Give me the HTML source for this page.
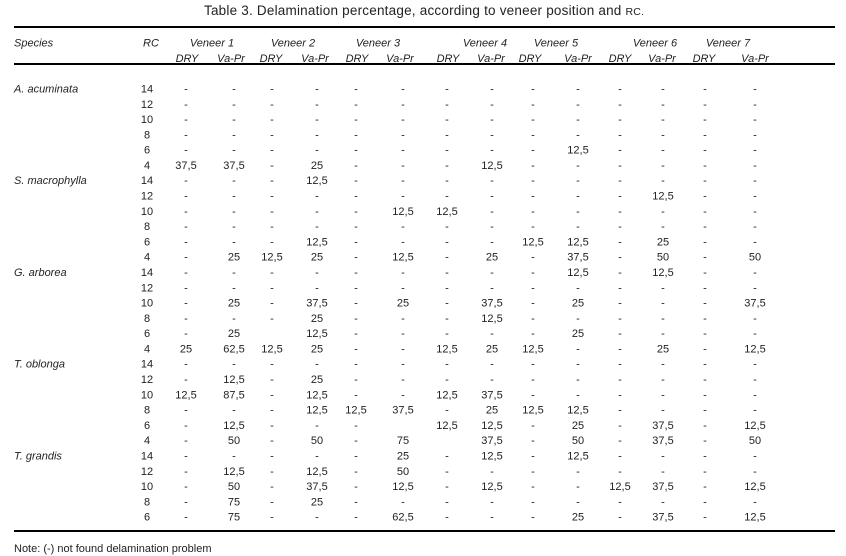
<!DOCTYPE html>
<html>
<head>
<meta charset="utf-8">
<style>
  html, body { margin: 0; padding: 0; background: #fff; }
  svg { display: block; }
  text { font-family: "Liberation Sans", Arial, sans-serif; fill: #222; }
  .h { font-style: italic; font-size: 11px; }
  .d { font-size: 11px; text-anchor: middle; }
  .s { font-style: italic; font-size: 11px; }
</style>
</head>
<body>
<svg width="846" height="556" viewBox="0 0 846 556" xmlns="http://www.w3.org/2000/svg">
<rect x="0" y="0" width="846" height="556" fill="#fff"/>

<!-- Title -->
<text x="204" y="15" font-size="13.5" textLength="440" lengthAdjust="spacing">Table 3. Delamination percentage, according to veneer position and <tspan font-size="10.5">RC.</tspan></text>

<!-- Rules -->
<rect x="14" y="26" width="821" height="2" fill="#000"/>
<rect x="14" y="63" width="821" height="2" fill="#000"/>
<rect x="14" y="530" width="821" height="2" fill="#000"/>

<!-- Header row 1 -->
<text class="h" x="14" y="46.5">Species</text>
<text class="h" x="151" y="46.5" text-anchor="middle">RC</text>
<text class="h" x="212" y="46.5" text-anchor="middle">Veneer 1</text>
<text class="h" x="293" y="46.5" text-anchor="middle">Veneer 2</text>
<text class="h" x="378" y="46.5" text-anchor="middle">Veneer 3</text>
<text class="h" x="485" y="46.5" text-anchor="middle">Veneer 4</text>
<text class="h" x="556" y="46.5" text-anchor="middle">Veneer 5</text>
<text class="h" x="655" y="46.5" text-anchor="middle">Veneer 6</text>
<text class="h" x="728" y="46.5" text-anchor="middle">Veneer 7</text>

<!-- Header row 2 -->
<text class="h" y="62" text-anchor="middle"><tspan x="187">DRY</tspan><tspan x="231">Va-Pr</tspan><tspan x="271">DRY</tspan><tspan x="315">Va-Pr</tspan><tspan x="357">DRY</tspan><tspan x="400">Va-Pr</tspan><tspan x="448">DRY</tspan><tspan x="491">Va-Pr</tspan><tspan x="530">DRY</tspan><tspan x="578">Va-Pr</tspan><tspan x="620">DRY</tspan><tspan x="662">Va-Pr</tspan><tspan x="704">DRY</tspan><tspan x="755">Va-Pr</tspan></text>

<!-- Species labels -->
<text class="s" x="14" y="92.5">A. acuminata</text>
<text class="s" x="14" y="184.2">S. macrophylla</text>
<text class="s" x="14" y="276.0">G. arborea</text>
<text class="s" x="14" y="367.7">T. oblonga</text>
<text class="s" x="14" y="459.5">T. grandis</text>

<!-- RC column -->
<text class="d" x="147" y="92.5">14</text>
<text class="d" x="147" y="107.8">12</text>
<text class="d" x="147" y="123.1">10</text>
<text class="d" x="147" y="138.4">8</text>
<text class="d" x="147" y="153.7">6</text>
<text class="d" x="147" y="168.9">4</text>
<text class="d" x="147" y="184.2">14</text>
<text class="d" x="147" y="199.5">12</text>
<text class="d" x="147" y="214.8">10</text>
<text class="d" x="147" y="230.1">8</text>
<text class="d" x="147" y="245.4">6</text>
<text class="d" x="147" y="260.7">4</text>
<text class="d" x="147" y="276.0">14</text>
<text class="d" x="147" y="291.3">12</text>
<text class="d" x="147" y="306.6">10</text>
<text class="d" x="147" y="321.9">8</text>
<text class="d" x="147" y="337.1">6</text>
<text class="d" x="147" y="352.4">4</text>
<text class="d" x="147" y="367.7">14</text>
<text class="d" x="147" y="383.0">12</text>
<text class="d" x="147" y="398.3">10</text>
<text class="d" x="147" y="413.6">8</text>
<text class="d" x="147" y="428.9">6</text>
<text class="d" x="147" y="444.2">4</text>
<text class="d" x="147" y="459.5">14</text>
<text class="d" x="147" y="474.8">12</text>
<text class="d" x="147" y="490.0">10</text>
<text class="d" x="147" y="505.3">8</text>
<text class="d" x="147" y="520.6">6</text>

<!-- Data rows -->
<text class="d" y="92.5"><tspan x="186">-</tspan><tspan x="234">-</tspan><tspan x="272">-</tspan><tspan x="317">-</tspan><tspan x="356">-</tspan><tspan x="403">-</tspan><tspan x="447">-</tspan><tspan x="492">-</tspan><tspan x="533">-</tspan><tspan x="578">-</tspan><tspan x="620">-</tspan><tspan x="663">-</tspan><tspan x="705">-</tspan><tspan x="755">-</tspan></text>
<text class="d" y="107.8"><tspan x="186">-</tspan><tspan x="234">-</tspan><tspan x="272">-</tspan><tspan x="317">-</tspan><tspan x="356">-</tspan><tspan x="403">-</tspan><tspan x="447">-</tspan><tspan x="492">-</tspan><tspan x="533">-</tspan><tspan x="578">-</tspan><tspan x="620">-</tspan><tspan x="663">-</tspan><tspan x="705">-</tspan><tspan x="755">-</tspan></text>
<text class="d" y="123.1"><tspan x="186">-</tspan><tspan x="234">-</tspan><tspan x="272">-</tspan><tspan x="317">-</tspan><tspan x="356">-</tspan><tspan x="403">-</tspan><tspan x="447">-</tspan><tspan x="492">-</tspan><tspan x="533">-</tspan><tspan x="578">-</tspan><tspan x="620">-</tspan><tspan x="663">-</tspan><tspan x="705">-</tspan><tspan x="755">-</tspan></text>
<text class="d" y="138.4"><tspan x="186">-</tspan><tspan x="234">-</tspan><tspan x="272">-</tspan><tspan x="317">-</tspan><tspan x="356">-</tspan><tspan x="403">-</tspan><tspan x="447">-</tspan><tspan x="492">-</tspan><tspan x="533">-</tspan><tspan x="578">-</tspan><tspan x="620">-</tspan><tspan x="663">-</tspan><tspan x="705">-</tspan><tspan x="755">-</tspan></text>
<text class="d" y="153.7"><tspan x="186">-</tspan><tspan x="234">-</tspan><tspan x="272">-</tspan><tspan x="317">-</tspan><tspan x="356">-</tspan><tspan x="403">-</tspan><tspan x="447">-</tspan><tspan x="492">-</tspan><tspan x="533">-</tspan><tspan x="578">12,5</tspan><tspan x="620">-</tspan><tspan x="663">-</tspan><tspan x="705">-</tspan><tspan x="755">-</tspan></text>
<text class="d" y="168.9"><tspan x="186">37,5</tspan><tspan x="234">37,5</tspan><tspan x="272">-</tspan><tspan x="317">25</tspan><tspan x="356">-</tspan><tspan x="403">-</tspan><tspan x="447">-</tspan><tspan x="492">12,5</tspan><tspan x="533">-</tspan><tspan x="578">-</tspan><tspan x="620">-</tspan><tspan x="663">-</tspan><tspan x="705">-</tspan><tspan x="755">-</tspan></text>

<text class="d" y="184.2"><tspan x="186">-</tspan><tspan x="234">-</tspan><tspan x="272">-</tspan><tspan x="317">12,5</tspan><tspan x="356">-</tspan><tspan x="403">-</tspan><tspan x="447">-</tspan><tspan x="492">-</tspan><tspan x="533">-</tspan><tspan x="578">-</tspan><tspan x="620">-</tspan><tspan x="663">-</tspan><tspan x="705">-</tspan><tspan x="755">-</tspan></text>
<text class="d" y="199.5"><tspan x="186">-</tspan><tspan x="234">-</tspan><tspan x="272">-</tspan><tspan x="317">-</tspan><tspan x="356">-</tspan><tspan x="403">-</tspan><tspan x="447">-</tspan><tspan x="492">-</tspan><tspan x="533">-</tspan><tspan x="578">-</tspan><tspan x="620">-</tspan><tspan x="663">12,5</tspan><tspan x="705">-</tspan><tspan x="755">-</tspan></text>
<text class="d" y="214.8"><tspan x="186">-</tspan><tspan x="234">-</tspan><tspan x="272">-</tspan><tspan x="317">-</tspan><tspan x="356">-</tspan><tspan x="403">12,5</tspan><tspan x="447">12,5</tspan><tspan x="492">-</tspan><tspan x="533">-</tspan><tspan x="578">-</tspan><tspan x="620">-</tspan><tspan x="663">-</tspan><tspan x="705">-</tspan><tspan x="755">-</tspan></text>
<text class="d" y="230.1"><tspan x="186">-</tspan><tspan x="234">-</tspan><tspan x="272">-</tspan><tspan x="317">-</tspan><tspan x="356">-</tspan><tspan x="403">-</tspan><tspan x="447">-</tspan><tspan x="492">-</tspan><tspan x="533">-</tspan><tspan x="578">-</tspan><tspan x="620">-</tspan><tspan x="663">-</tspan><tspan x="705">-</tspan><tspan x="755">-</tspan></text>
<text class="d" y="245.4"><tspan x="186">-</tspan><tspan x="234">-</tspan><tspan x="272">-</tspan><tspan x="317">12,5</tspan><tspan x="356">-</tspan><tspan x="403">-</tspan><tspan x="447">-</tspan><tspan x="492">-</tspan><tspan x="533">12,5</tspan><tspan x="578">12,5</tspan><tspan x="620">-</tspan><tspan x="663">25</tspan><tspan x="705">-</tspan><tspan x="755">-</tspan></text>
<text class="d" y="260.7"><tspan x="186">-</tspan><tspan x="234">25</tspan><tspan x="272">12,5</tspan><tspan x="317">25</tspan><tspan x="356">-</tspan><tspan x="403">12,5</tspan><tspan x="447">-</tspan><tspan x="492">25</tspan><tspan x="533">-</tspan><tspan x="578">37,5</tspan><tspan x="620">-</tspan><tspan x="663">50</tspan><tspan x="705">-</tspan><tspan x="755">50</tspan></text>

<text class="d" y="276.0"><tspan x="186">-</tspan><tspan x="234">-</tspan><tspan x="272">-</tspan><tspan x="317">-</tspan><tspan x="356">-</tspan><tspan x="403">-</tspan><tspan x="447">-</tspan><tspan x="492">-</tspan><tspan x="533">-</tspan><tspan x="578">12,5</tspan><tspan x="620">-</tspan><tspan x="663">12,5</tspan><tspan x="705">-</tspan><tspan x="755">-</tspan></text>
<text class="d" y="291.3"><tspan x="186">-</tspan><tspan x="234">-</tspan><tspan x="272">-</tspan><tspan x="317">-</tspan><tspan x="356">-</tspan><tspan x="403">-</tspan><tspan x="447">-</tspan><tspan x="492">-</tspan><tspan x="533">-</tspan><tspan x="578">-</tspan><tspan x="620">-</tspan><tspan x="663">-</tspan><tspan x="705">-</tspan><tspan x="755">-</tspan></text>
<text class="d" y="306.6"><tspan x="186">-</tspan><tspan x="234">25</tspan><tspan x="272">-</tspan><tspan x="317">37,5</tspan><tspan x="356">-</tspan><tspan x="403">25</tspan><tspan x="447">-</tspan><tspan x="492">37,5</tspan><tspan x="533">-</tspan><tspan x="578">25</tspan><tspan x="620">-</tspan><tspan x="663">-</tspan><tspan x="705">-</tspan><tspan x="755">37,5</tspan></text>
<text class="d" y="321.9"><tspan x="186">-</tspan><tspan x="234">-</tspan><tspan x="272">-</tspan><tspan x="317">25</tspan><tspan x="356">-</tspan><tspan x="403">-</tspan><tspan x="447">-</tspan><tspan x="492">12,5</tspan><tspan x="533">-</tspan><tspan x="578">-</tspan><tspan x="620">-</tspan><tspan x="663">-</tspan><tspan x="705">-</tspan><tspan x="755">-</tspan></text>
<text class="d" y="337.1"><tspan x="186">-</tspan><tspan x="234">25</tspan><tspan x="317">12,5</tspan><tspan x="356">-</tspan><tspan x="403">-</tspan><tspan x="447">-</tspan><tspan x="492">-</tspan><tspan x="533">-</tspan><tspan x="578">25</tspan><tspan x="620">-</tspan><tspan x="663">-</tspan><tspan x="705">-</tspan><tspan x="755">-</tspan></text>
<text class="d" y="352.4"><tspan x="186">25</tspan><tspan x="234">62,5</tspan><tspan x="272">12,5</tspan><tspan x="317">25</tspan><tspan x="356">-</tspan><tspan x="403">-</tspan><tspan x="447">12,5</tspan><tspan x="492">25</tspan><tspan x="533">12,5</tspan><tspan x="578">-</tspan><tspan x="620">-</tspan><tspan x="663">25</tspan><tspan x="705">-</tspan><tspan x="755">12,5</tspan></text>

<text class="d" y="367.7"><tspan x="186">-</tspan><tspan x="234">-</tspan><tspan x="272">-</tspan><tspan x="317">-</tspan><tspan x="356">-</tspan><tspan x="403">-</tspan><tspan x="447">-</tspan><tspan x="492">-</tspan><tspan x="533">-</tspan><tspan x="578">-</tspan><tspan x="620">-</tspan><tspan x="663">-</tspan><tspan x="705">-</tspan><tspan x="755">-</tspan></text>
<text class="d" y="383.0"><tspan x="186">-</tspan><tspan x="234">12,5</tspan><tspan x="272">-</tspan><tspan x="317">25</tspan><tspan x="356">-</tspan><tspan x="403">-</tspan><tspan x="447">-</tspan><tspan x="492">-</tspan><tspan x="533">-</tspan><tspan x="578">-</tspan><tspan x="620">-</tspan><tspan x="663">-</tspan><tspan x="705">-</tspan><tspan x="755">-</tspan></text>
<text class="d" y="398.3"><tspan x="186">12,5</tspan><tspan x="234">87,5</tspan><tspan x="272">-</tspan><tspan x="317">12,5</tspan><tspan x="356">-</tspan><tspan x="403">-</tspan><tspan x="447">12,5</tspan><tspan x="492">37,5</tspan><tspan x="533">-</tspan><tspan x="578">-</tspan><tspan x="620">-</tspan><tspan x="663">-</tspan><tspan x="705">-</tspan><tspan x="755">-</tspan></text>
<text class="d" y="413.6"><tspan x="186">-</tspan><tspan x="234">-</tspan><tspan x="272">-</tspan><tspan x="317">12,5</tspan><tspan x="356">12,5</tspan><tspan x="403">37,5</tspan><tspan x="447">-</tspan><tspan x="492">25</tspan><tspan x="533">12,5</tspan><tspan x="578">12,5</tspan><tspan x="620">-</tspan><tspan x="663">-</tspan><tspan x="705">-</tspan><tspan x="755">-</tspan></text>
<text class="d" y="428.9"><tspan x="186">-</tspan><tspan x="234">12,5</tspan><tspan x="272">-</tspan><tspan x="317">-</tspan><tspan x="356">-</tspan><tspan x="447">12,5</tspan><tspan x="492">12,5</tspan><tspan x="533">-</tspan><tspan x="578">25</tspan><tspan x="620">-</tspan><tspan x="663">37,5</tspan><tspan x="705">-</tspan><tspan x="755">12,5</tspan></text>
<text class="d" y="444.2"><tspan x="186">-</tspan><tspan x="234">50</tspan><tspan x="272">-</tspan><tspan x="317">50</tspan><tspan x="356">-</tspan><tspan x="403">75</tspan><tspan x="492">37,5</tspan><tspan x="533">-</tspan><tspan x="578">50</tspan><tspan x="620">-</tspan><tspan x="663">37,5</tspan><tspan x="705">-</tspan><tspan x="755">50</tspan></text>

<text class="d" y="459.5"><tspan x="186">-</tspan><tspan x="234">-</tspan><tspan x="272">-</tspan><tspan x="317">-</tspan><tspan x="356">-</tspan><tspan x="403">25</tspan><tspan x="447">-</tspan><tspan x="492">12,5</tspan><tspan x="533">-</tspan><tspan x="578">12,5</tspan><tspan x="620">-</tspan><tspan x="663">-</tspan><tspan x="705">-</tspan><tspan x="755">-</tspan></text>
<text class="d" y="474.8"><tspan x="186">-</tspan><tspan x="234">12,5</tspan><tspan x="272">-</tspan><tspan x="317">12,5</tspan><tspan x="356">-</tspan><tspan x="403">50</tspan><tspan x="447">-</tspan><tspan x="492">-</tspan><tspan x="533">-</tspan><tspan x="578">-</tspan><tspan x="620">-</tspan><tspan x="663">-</tspan><tspan x="705">-</tspan><tspan x="755">-</tspan></text>
<text class="d" y="490.0"><tspan x="186">-</tspan><tspan x="234">50</tspan><tspan x="272">-</tspan><tspan x="317">37,5</tspan><tspan x="356">-</tspan><tspan x="403">12,5</tspan><tspan x="447">-</tspan><tspan x="492">12,5</tspan><tspan x="533">-</tspan><tspan x="578">-</tspan><tspan x="620">12,5</tspan><tspan x="663">37,5</tspan><tspan x="705">-</tspan><tspan x="755">12,5</tspan></text>
<text class="d" y="505.3"><tspan x="186">-</tspan><tspan x="234">75</tspan><tspan x="272">-</tspan><tspan x="317">25</tspan><tspan x="356">-</tspan><tspan x="403">-</tspan><tspan x="447">-</tspan><tspan x="492">-</tspan><tspan x="533">-</tspan><tspan x="578">-</tspan><tspan x="620">-</tspan><tspan x="663">-</tspan><tspan x="705">-</tspan><tspan x="755">-</tspan></text>
<text class="d" y="520.6"><tspan x="186">-</tspan><tspan x="234">75</tspan><tspan x="272">-</tspan><tspan x="317">-</tspan><tspan x="356">-</tspan><tspan x="403">62,5</tspan><tspan x="447">-</tspan><tspan x="492">-</tspan><tspan x="533">-</tspan><tspan x="578">25</tspan><tspan x="620">-</tspan><tspan x="663">37,5</tspan><tspan x="705">-</tspan><tspan x="755">12,5</tspan></text>

<!-- Note -->
<text x="14" y="552" font-size="11">Note: (-) not found delamination problem</text>
</svg>
</body>
</html>
